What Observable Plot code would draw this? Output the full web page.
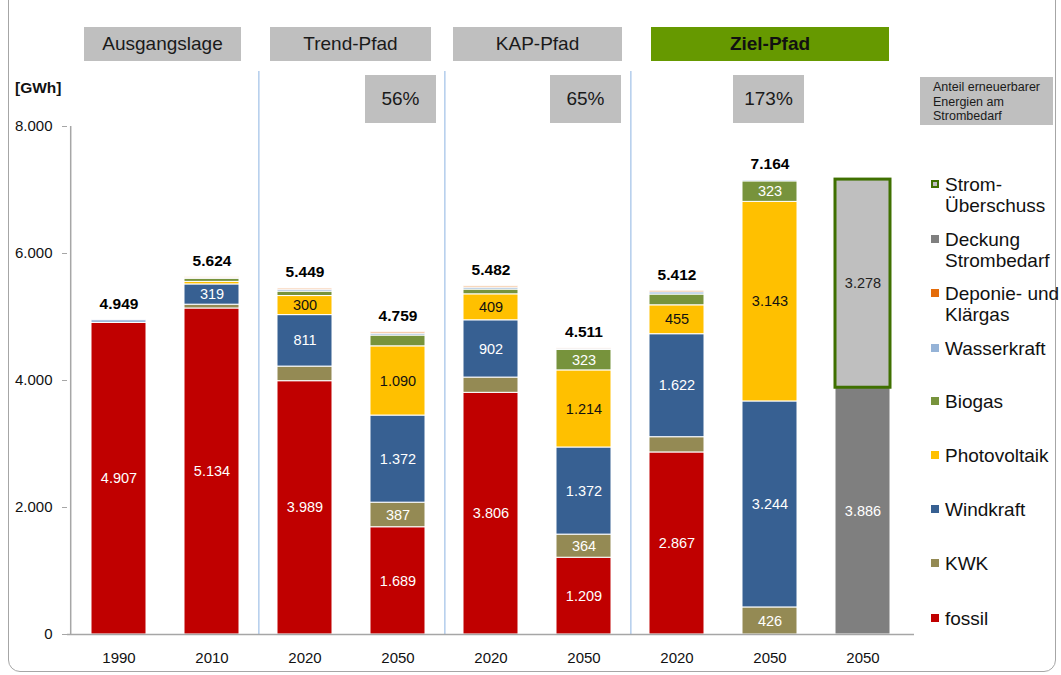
<!DOCTYPE html>
<html>
<head>
<meta charset="utf-8">
<script src="https://cdn.jsdelivr.net/npm/d3@7"></script>
<script src="https://cdn.jsdelivr.net/npm/@observablehq/plot@0.6"></script>
<style>
  html, body { margin: 0; padding: 0; background: #fff; }
  #wrap { position: relative; width: 1061px; height: 675px; overflow: hidden; font-family: "Liberation Sans", Arial, sans-serif; color: #111; }
  #frame { position: absolute; left: 8px; top: -14px; width: 1048px; height: 686px; border: 1px solid #A6A6A6; border-radius: 12px; box-sizing: border-box; }
  .box { position: absolute; background: #BFBFBF; display: flex; align-items: center; justify-content: center; font-size: 19px; color: #1a1a1a; }
  .box.green { background: #669900; font-weight: bold; color: #111; }
  #anteil { position: absolute; left: 920px; top: 77px; width: 133px; height: 48px; background: #BFBFBF; font-size: 12.5px; line-height: 14.5px; padding: 3px 0 0 13px; box-sizing: border-box; color: #1a1a1a; }
  #unit { position: absolute; left: 15px; top: 79px; font-size: 15.5px; font-weight: bold; }
  #legend { position: absolute; left: 929px; top: 0; }
  .li { position: absolute; left: 0; width: 130px; font-size: 19px; line-height: 21px; padding-left: 16px; white-space: nowrap; }
  .sw { position: absolute; left: 2px; top: 6px; width: 8px; height: 8px; box-sizing: border-box; }
  #chart svg { position: absolute; left: 0; top: 0; }
</style>
</head>
<body>
<div id="wrap">
  <div id="frame"></div>
  <div id="chart"></div>
</div>
<script>
// ---- data ----
const categories = ["1990", "2010", "2020 Trend", "2050 Trend", "2020 KAP", "2050 KAP", "2020 Ziel", "2050 Ziel", "2050 Ziel Bedarf"];
const yearLabels = ["1990", "2010", "2020", "2050", "2020", "2050", "2020", "2050", "2050"];
const seriesNames = ["fossil", "KWK", "Windkraft", "Photovoltaik", "Biogas", "Wasserkraft", "Deponie- und Klärgas", "Deckung Strombedarf", "Strom-Überschuss"];
const fossil      = [4907, 5134, 3989, 1689, 3806, 1209, 2867, 0, 0];
const kwk         = [0, 60, 230, 387, 240, 364, 240, 426, 0];
const windkraft   = [0, 319, 811, 1372, 902, 1372, 1622, 3244, 0];
const photovoltaik= [0, 40, 300, 1090, 409, 1214, 455, 3143, 0];
const biogas      = [0, 50, 70, 170, 75, 323, 170, 323, 0];
const wasserkraft = [42, 15, 30, 30, 30, 20, 35, 20, 0];
const deponie     = [0, 6, 19, 21, 20, 9, 23, 8, 0];
const deckung     = [0, 0, 0, 0, 0, 0, 0, 0, 3886];
const ueberschuss = [0, 0, 0, 0, 0, 0, 0, 0, 3278];
const totals      = [4949, 5624, 5449, 4759, 5482, 4511, 5412, 7164, null];
const groups = ["Ausgangslage", "Trend-Pfad", "KAP-Pfad", "Ziel-Pfad"];
const shares = ["56%", "65%", "173%"];
const yTicks = [0, 2000, 4000, 6000, 8000];
const labelMin = 280;

// ---- styles ----
const seriesColors = {
  "fossil": "#C00000", "KWK": "#948A54", "Windkraft": "#376092", "Photovoltaik": "#FFC000",
  "Biogas": "#77933C", "Wasserkraft": "#95B3D7", "Deponie- und Klärgas": "#E46C0A",
  "Deckung Strombedarf": "#7F7F7F", "Strom-Überschuss": "#BFBFBF"
};
const labelColors = {
  "fossil": "#fff", "KWK": "#fff", "Windkraft": "#fff", "Photovoltaik": "#111",
  "Biogas": "#fff", "Wasserkraft": "#111", "Deponie- und Klärgas": "#fff",
  "Deckung Strombedarf": "#fff", "Strom-Überschuss": "#222"
};
const seriesValues = [fossil, kwk, windkraft, photovoltaik, biogas, wasserkraft, deponie, deckung, ueberschuss];

const table = [];
categories.forEach((c, i) => {
  seriesNames.forEach((s, j) => {
    const v = seriesValues[j][i];
    if (v > 0) table.push({cat: c, series: s, value: v});
  });
});
const totalRows = categories.map((c, i) => ({cat: c, total: totals[i]})).filter(d => d.total != null);

const de = d3.formatLocale({decimal: ",", thousands: ".", grouping: [3], currency: ["", "€"]});
const fmt = de.format(",d");

// separators between groups (after these categories)
const sepAfter = ["2010", "2050 Trend", "2050 KAP"];

const W = 1061, H = 675, mL = 67, mR = 147, mT = 126, mB = 41;
const pIn = 0.41, pOut = 0.22;
const step = (W - mL - mR) / (categories.length - pIn + 2 * pOut);
const firstCenterOffset = step * pOut + step * (1 - pIn) / 2;

const plot = Plot.plot({
  width: W, height: H,
  marginLeft: mL, marginRight: mR, marginTop: mT, marginBottom: mB,
  style: {fontFamily: "'Liberation Sans', Arial, sans-serif", fontSize: "15px", background: "transparent", overflow: "visible"},
  x: {domain: categories, paddingInner: pIn, paddingOuter: pOut, axis: null},
  y: {domain: [0, 8000], axis: null},
  marks: [
    Plot.ruleX(sepAfter, {stroke: "#8DB3E2", strokeWidth: 1, dx: step / 2, insetTop: -55}),
    Plot.axisY({ticks: yTicks, tickFormat: fmt, tickSize: 5, tickPadding: 10, stroke: "#A6A6A6", fill: "#111", label: null, fontSize: 15}),
    Plot.axisX({tickSize: 0, tickPadding: 18, tickFormat: d => yearLabels[categories.indexOf(d)], fill: "#111", label: null, fontSize: 15}),
    Plot.barY(table, Plot.stackY({
      x: "cat", y: "value",
      fill: d => seriesColors[d.series],
      stroke: d => d.series === "Strom-Überschuss" ? "#3F7000" : "#fff",
      strokeWidth: d => d.series === "Strom-Überschuss" ? 3 : 1
    })),
    Plot.text(table, Plot.stackY({
      x: "cat", y: "value",
      text: d => d.value >= labelMin ? fmt(d.value) : "",
      fill: d => labelColors[d.series],
      fontSize: 14.5
    })),
    Plot.text(totalRows, {x: "cat", y: "total", text: d => fmt(d.total), dy: -16, fontWeight: "bold", fontSize: 15.5, fill: "#000"}),
    Plot.ruleY([0], {stroke: "#A6A6A6", strokeWidth: 1.5}),
    Plot.ruleX([categories[0]], {dx: -firstCenterOffset, stroke: "#A6A6A6", strokeWidth: 1.5})
  ]
});
document.getElementById("chart").appendChild(plot);

// ---- header boxes ----
const wrap = document.getElementById("wrap");
const headerPos = [[84, 157], [270, 161], [453, 169], [651, 238]];
groups.forEach((g, i) => {
  const b = document.createElement("div");
  b.className = "box" + (i === 3 ? " green" : "");
  b.style.left = headerPos[i][0] + "px"; b.style.top = "27px";
  b.style.width = headerPos[i][1] + "px"; b.style.height = "34px";
  b.textContent = g;
  wrap.appendChild(b);
});
const sharePos = [365, 550, 733];
shares.forEach((s, i) => {
  const b = document.createElement("div");
  b.className = "box";
  b.style.left = sharePos[i] + "px"; b.style.top = "75px";
  b.style.width = "71px"; b.style.height = "48px";
  b.textContent = s;
  wrap.appendChild(b);
});
const an = document.createElement("div");
an.id = "anteil";
an.innerHTML = "Anteil erneuerbarer<br>Energien am<br>Strombedarf";
wrap.appendChild(an);
const unit = document.createElement("div");
unit.id = "unit"; unit.textContent = "[GWh]";
wrap.appendChild(unit);

// ---- legend ----
const legendItems = [
  ["Strom-Überschuss", "Strom-<br>Überschuss", 174],
  ["Deckung Strombedarf", "Deckung<br>Strombedarf", 229],
  ["Deponie- und Klärgas", "Deponie- und<br>Klärgas", 283],
  ["Wasserkraft", "Wasserkraft", 338],
  ["Biogas", "Biogas", 391],
  ["Photovoltaik", "Photovoltaik", 445],
  ["Windkraft", "Windkraft", 499],
  ["KWK", "KWK", 553],
  ["fossil", "fossil", 608]
];
const leg = document.createElement("div");
leg.id = "legend";
legendItems.forEach(([key, html, top]) => {
  const li = document.createElement("div");
  li.className = "li"; li.style.top = top + "px";
  const sw = document.createElement("div");
  sw.className = "sw";
  sw.style.background = seriesColors[key];
  if (key === "Strom-Überschuss") sw.style.border = "2px solid #3F7000";
  li.appendChild(sw);
  const t = document.createElement("span");
  t.innerHTML = html;
  li.appendChild(t);
  leg.appendChild(li);
});
wrap.appendChild(leg);
</script>
</body>
</html>
